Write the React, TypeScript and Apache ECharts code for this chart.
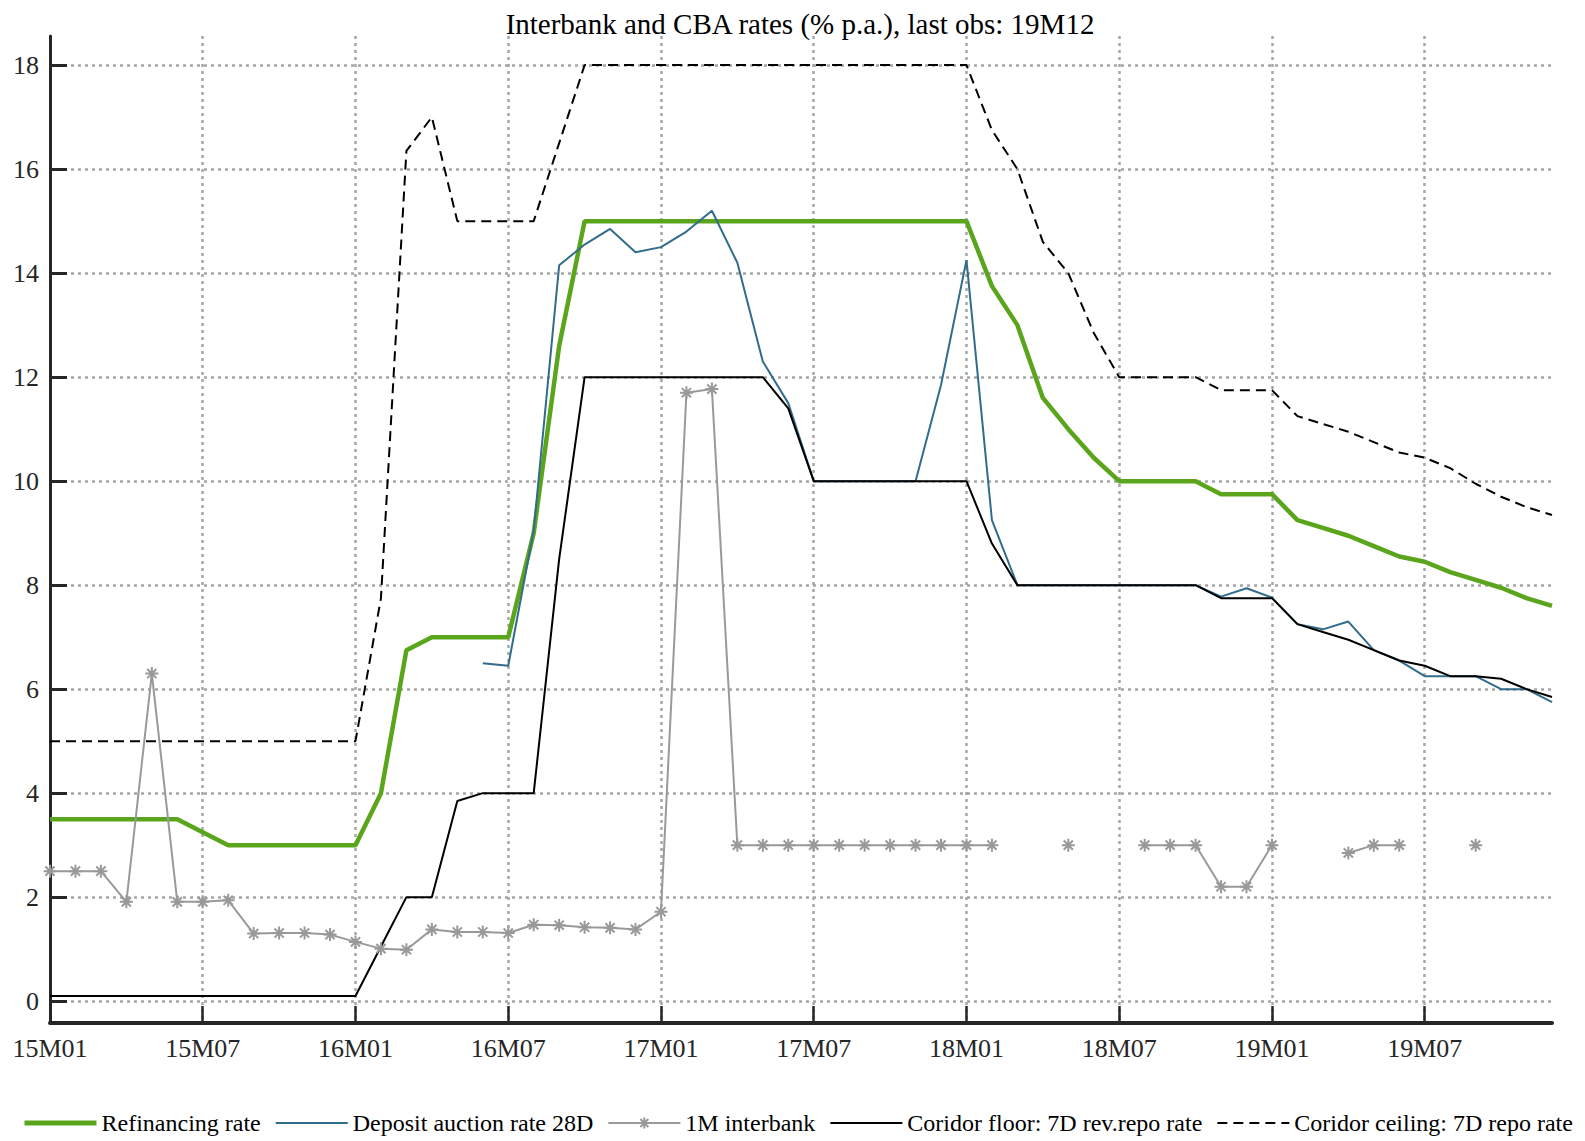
import React, { useEffect, useRef } from "react";
import * as echarts from "echarts";

const years = ["15", "16", "17", "18", "19"];
const monthNums = ["01", "02", "03", "04", "05", "06", "07", "08", "09", "10", "11", "12"];
const categories: string[] = [];
years.forEach((y) => monthNums.forEach((m) => categories.push(`${y}M${m}`)));

const yTicks = [0, 2, 4, 6, 8, 10, 12, 14, 16, 18];

// index 0 = 15M01 ... index 59 = 19M12
const refinancing = [
  3.5, 3.5, 3.5, 3.5, 3.5, 3.5, 3.25, 3.0, 3.0, 3.0, 3.0, 3.0,
  3.0, 4.0, 6.75, 7.0, 7.0, 7.0, 7.0, 9.0, 12.6, 15, 15, 15,
  15, 15, 15, 15, 15, 15, 15, 15, 15, 15, 15, 15,
  15, 13.75, 13.0, 11.6, 11.0, 10.45, 10, 10, 10, 10, 9.75, 9.75,
  9.75, 9.25, 9.1, 8.95, 8.75, 8.55, 8.45, 8.25, 8.1, 7.95, 7.75, 7.6,
];

const depositAuction = [
  null, null, null, null, null, null, null, null, null, null, null, null,
  null, null, null, null, null, 6.5, 6.45, 9.05, 14.15, 14.55, 14.85, 14.4,
  14.5, 14.8, 15.2, 14.2, 12.3, 11.5, 10, 10, 10, 10, 10, 11.85,
  14.25, 9.25, 8, 8, 8, 8, 8, 8, 8, 8, 7.78, 7.94,
  7.76, 7.25, 7.15, 7.3, 6.75, 6.55, 6.25, 6.25, 6.25, 6.0, 6.0, 5.75,
];

const interbank1M = [
  2.5, 2.5, 2.5, 1.91, 6.3, 1.91, 1.91, 1.94, 1.3, 1.31, 1.31, 1.28,
  1.14, 1.01, 0.99, 1.38, 1.33, 1.33, 1.31, 1.47, 1.46, 1.42, 1.41, 1.38,
  1.72, 11.7, 11.77, 3, 3, 3, 3, 3, 3, 3, 3, 3,
  3, 3, null, null, 3, null, null, 3, 3, 3, 2.2, 2.2,
  3, null, null, 2.85, 3, 3, null, null, 3, null, null, null,
];

const corridorFloor = [
  0.1, 0.1, 0.1, 0.1, 0.1, 0.1, 0.1, 0.1, 0.1, 0.1, 0.1, 0.1,
  0.1, 1.05, 2.0, 2.0, 3.85, 4.0, 4.0, 4.0, 8.5, 12, 12, 12,
  12, 12, 12, 12, 12, 11.4, 10, 10, 10, 10, 10, 10,
  10, 8.8, 8, 8, 8, 8, 8, 8, 8, 8, 7.75, 7.75,
  7.75, 7.25, 7.1, 6.95, 6.75, 6.55, 6.45, 6.25, 6.25, 6.2, 6.0, 5.85,
];

const corridorCeiling = [
  5, 5, 5, 5, 5, 5, 5, 5, 5, 5, 5, 5,
  5, 7.75, 16.35, 17.0, 15, 15, 15, 15, 16.5, 18, 18, 18,
  18, 18, 18, 18, 18, 18, 18, 18, 18, 18, 18, 18,
  18, 16.75, 16.0, 14.6, 14.0, 12.85, 12, 12, 12, 12, 11.75, 11.75,
  11.75, 11.25, 11.1, 10.95, 10.75, 10.55, 10.45, 10.25, 9.95, 9.7, 9.5, 9.35,
];

const FONT = "'Liberation Serif', 'DejaVu Serif', serif";
const GRID_COLOR = "#a6a6a6";
const AXIS_COLOR = "#262626";
const ASTERISK = "path://M6,0L6,12M0,6L12,6M1.76,1.76L10.24,10.24M1.76,10.24L10.24,1.76";
const HIDDEN_SYMBOL = { opacity: 0, color: "transparent", borderWidth: 0 };

export default function App() {
  const ref = useRef<HTMLDivElement>(null);
  useEffect(() => {
    if (!ref.current) return;
    const chart = echarts.init(ref.current, undefined, { renderer: "svg" });
    const gridLine = { show: true, lineStyle: { color: GRID_COLOR, width: 2.5, type: [3, 4] as any } };
    chart.setOption({
      animation: false,
      backgroundColor: "#ffffff",
      title: {
        text: "Interbank and CBA rates (% p.a.), last obs: 19M12",
        left: 795,
        textAlign: "center",
        top: 4,
        textStyle: { fontFamily: FONT, fontSize: 29, fontWeight: "normal", color: "#000" },
      },
      grid: { left: 50, right: 33, top: 36, bottom: 118, containLabel: false },
      legend: {
        left: 17,
        top: 1106,
        itemWidth: 72,
        itemHeight: 14,
        itemGap: 14,
        textStyle: { fontFamily: FONT, fontSize: 24, color: "#000" },
        data: [
          { name: "Refinancing rate", itemStyle: HIDDEN_SYMBOL, lineStyle: { width: 5 } },
          { name: "Deposit auction rate 28D", itemStyle: HIDDEN_SYMBOL },
          { name: "1M interbank" },
          { name: "Coridor floor: 7D rev.repo rate", itemStyle: HIDDEN_SYMBOL },
          { name: "Coridor ceiling: 7D repo rate", itemStyle: HIDDEN_SYMBOL },
        ],
      },
      xAxis: {
        type: "category",
        data: categories,
        boundaryGap: false,
        axisLine: { onZero: false, lineStyle: { color: AXIS_COLOR, width: 4 } },
        axisTick: { inside: true, length: 17, interval: 5, lineStyle: { color: AXIS_COLOR, width: 2.5 } },
        axisLabel: { interval: 5, fontFamily: FONT, fontSize: 26, color: AXIS_COLOR, margin: 12 },
        splitLine: { ...gridLine, interval: 5 },
      },
      yAxis: {
        type: "value",
        min: -0.42,
        max: 18.56,
        axisLine: { show: true, lineStyle: { color: AXIS_COLOR, width: 3 } },
        axisTick: { show: true, inside: true, length: 17, customValues: yTicks, lineStyle: { color: AXIS_COLOR, width: 3 } },
        axisLabel: { customValues: yTicks, fontFamily: FONT, fontSize: 26, color: AXIS_COLOR, margin: 11 },
        splitLine: gridLine,
      },
      series: [
        {
          name: "Refinancing rate",
          type: "line",
          data: refinancing,
          symbol: "none",
          itemStyle: { color: "#5aa51c" },
          lineStyle: { color: "#5aa51c", width: 4.5 },
        },
        {
          name: "Deposit auction rate 28D",
          type: "line",
          data: depositAuction,
          symbol: "none",
          connectNulls: false,
          itemStyle: { color: "#326c8b" },
          lineStyle: { color: "#326c8b", width: 2 },
        },
        {
          name: "1M interbank",
          type: "line",
          data: interbank1M,
          symbol: ASTERISK,
          symbolSize: 13,
          showSymbol: true,
          showAllSymbol: true,
          connectNulls: false,
          itemStyle: { color: "#999999", borderColor: "#999999", borderWidth: 2 },
          lineStyle: { color: "#999999", width: 2 },
        },
        {
          name: "Coridor floor: 7D rev.repo rate",
          type: "line",
          data: corridorFloor,
          symbol: "none",
          itemStyle: { color: "#000000" },
          lineStyle: { color: "#000000", width: 2 },
        },
        {
          name: "Coridor ceiling: 7D repo rate",
          type: "line",
          data: corridorCeiling,
          symbol: "none",
          itemStyle: { color: "#000000" },
          lineStyle: { color: "#000000", width: 2, type: [10, 6] },
        },
      ],
    });
    return () => chart.dispose();
  }, []);
  return (
    <div
      ref={ref}
      style={{ position: "fixed", left: 0, top: 0, width: 1585, height: 1141, background: "#fff" }}
    />
  );
}
